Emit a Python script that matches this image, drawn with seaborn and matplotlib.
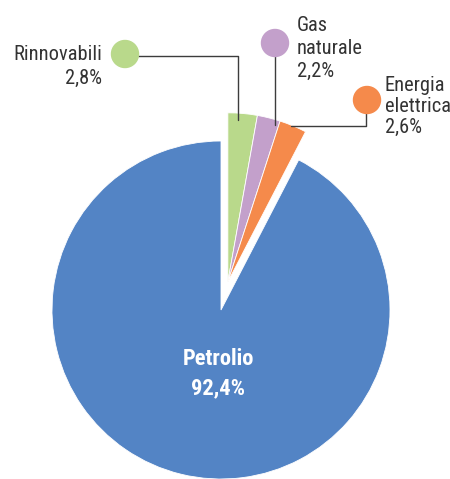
import matplotlib
matplotlib.use("Agg")
import matplotlib.pyplot as plt
from matplotlib.patches import Circle
import numpy as np
import seaborn as sns

sns.set_style("white")
plt.rcParams['font.family'] = ['Roboto Condensed', 'DejaVu Sans']

# ---- data ----
categories = ["Rinnovabili", "Gas naturale", "Energia elettrica", "Petrolio"]
values = [2.8, 2.2, 2.6, 92.4]
label_lines = [["Rinnovabili", "2,8%"], ["Gas", "naturale", "2,2%"],
               ["Energia", "elettrica", "2,6%"], ["Petrolio", "92,4%"]]
colors = sns.color_palette(["#B9D98B", "#C3A0CB", "#F58A4B", "#5384C5"])

W, H = 450, 479
fig = plt.figure(figsize=(W / 100, H / 100), dpi=100)
ax = fig.add_axes([0, 0, 1, 1])

def Y(y):
    return H - y

cx, cy, R = 221, Y(310), 169
wedges, _ = ax.pie(values, colors=colors, startangle=90, counterclock=False,
                   center=(cx, cy), radius=R,
                   wedgeprops=dict(linewidth=0.6, edgecolor="white"))

# explode the small slices together as one group
small_share = sum(values[:3]) / sum(values)
mid = np.deg2rad(90 - 360 * small_share / 2)
off = 29
for w in wedges[:3]:
    w.set_center((cx + off * np.cos(mid), cy + off * np.sin(mid)))

ax.set_xlim(0, W)
ax.set_ylim(0, H)
ax.set_aspect("equal")
ax.axis("off")

lc = "#3c3c3c"
tc = "#333333"
fs = 14.7

# callout circles
for (x, y), c in zip([(125, 54), (275, 43), (367, 100)], colors[:3]):
    ax.add_patch(Circle((x, Y(y)), 13.5, color=c, zorder=5))

# leader lines
ax.plot([138, 238, 238], [Y(56), Y(56), Y(120)], color=lc, lw=1, zorder=4)
ax.plot([275, 275], [Y(56), Y(125)], color=lc, lw=1, zorder=4)
ax.plot([366, 366, 291], [Y(113), Y(126), Y(126)], color=lc, lw=1, zorder=4)

# labels
for txt, yb in zip(label_lines[0], [60, 84]):
    ax.text(102, Y(yb), txt, ha="right", va="baseline", fontsize=fs, color=tc)
for txt, yb in zip(label_lines[1], [31, 54, 77]):
    ax.text(297, Y(yb), txt, ha="left", va="baseline", fontsize=fs, color=tc)
for txt, yb in zip(label_lines[2], [91, 112, 133]):
    ax.text(385, Y(yb), txt, ha="left", va="baseline", fontsize=fs, color=tc)
for txt, yb in zip(label_lines[3], [365, 394]):
    ax.text(218, Y(yb), txt, ha="center", va="baseline", fontsize=16.2,
            fontweight="bold", color="white")

fig.savefig("out.png", dpi=100)
